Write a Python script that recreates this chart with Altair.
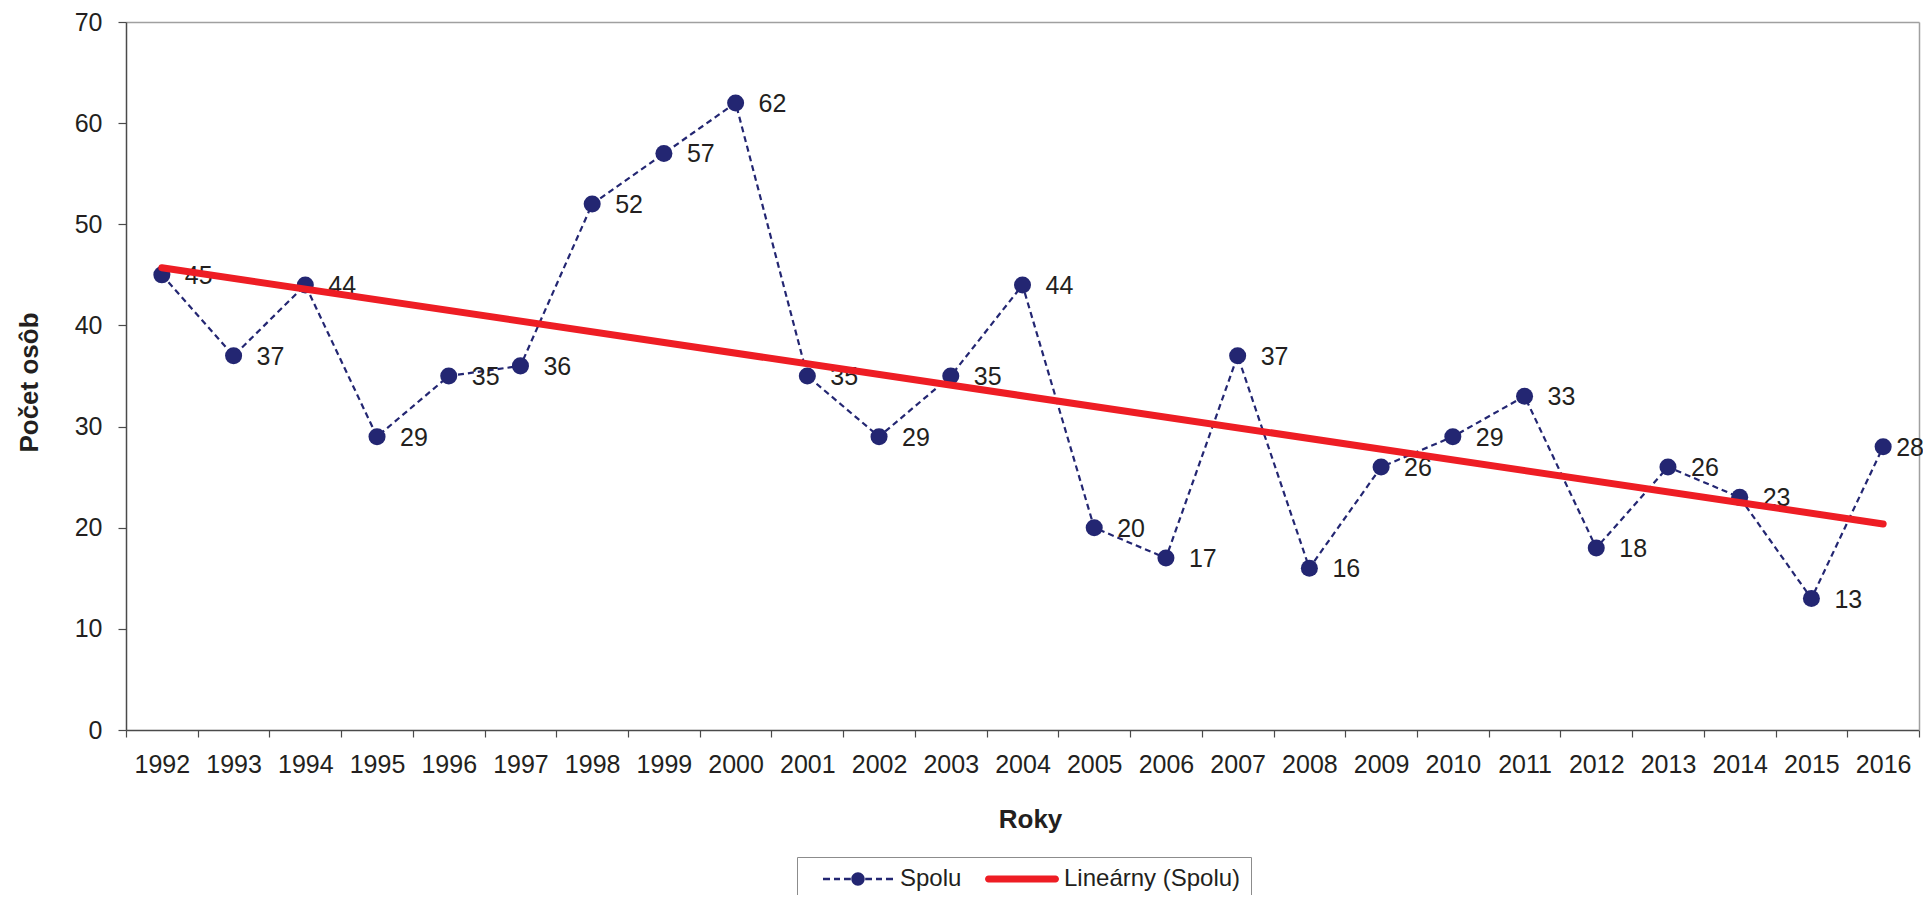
import altair as alt
import pandas as pd

# ---- data -------------------------------------------------------------
years = [1992, 1993, 1994, 1995, 1996, 1997, 1998, 1999, 2000, 2001, 2002, 2003,
         2004, 2005, 2006, 2007, 2008, 2009, 2010, 2011, 2012, 2013, 2014, 2015, 2016]
values = [45, 37, 44, 29, 35, 36, 52, 57, 62, 35, 29, 35,
          44, 20, 17, 37, 16, 26, 29, 33, 18, 26, 23, 13, 28]
legend_labels = ["Spolu", "Lineárny (Spolu)"]
y_ticks = [0, 10, 20, 30, 40, 50, 60, 70]

df = pd.DataFrame({"year": years, "value": values})
legend_df = pd.DataFrame({"series": legend_labels})

NAVY = "#232672"
RED = "#ee1d24"
TEXT = "#231f20"
AXIS = "#4a4a4a"
FONT = "Liberation Sans"

# legend symbol paths (unit = sqrt(symbolSize)/2 = 12 px)
def rect(x0, x1, h):
    return f"M{x0},{-h}L{x1},{-h}L{x1},{h}L{x0},{h}Z"

h = 0.095
spolu_path = " ".join([
    rect(-2.917, -2.333, h), rect(-2.0, -1.5, h), rect(-1.167, -0.6, h),
    rect(0.6, 1.167, h), rect(1.5, 2.0, h), rect(2.333, 2.917, h),
    "M-0.56,0A0.56,0.56 0 1,0 0.56,0A0.56,0.56 0 1,0 -0.56,0Z",
])
t = 0.292
trend_path = (f"M-2.79,{-t}L2.79,{-t}A{t},{t} 0 0,1 2.79,{t}"
              f"L-2.79,{t}A{t},{t} 0 0,1 -2.79,{-t}Z")

x_scale = alt.Scale(type="band", paddingInner=0, paddingOuter=0)
y_scale = alt.Scale(domain=[0, 70], nice=False, zero=True)

x_axis = alt.Axis(
    title="Roky", labelAngle=0, tickBand="extent", tickSize=7, labelPadding=15,
    titlePadding=29, titleX=904, grid=False,
)
y_axis = alt.Axis(
    title="Počet osôb", values=y_ticks, tickSize=8, labelPadding=16,
    titlePadding=32, titleY=360, grid=False,
)

base = alt.Chart(df)

# dashed series line (carries bottom/left axes)
line = base.mark_line(color=NAVY, strokeWidth=2.2, strokeDash=[6, 4]).encode(
    x=alt.X("year:O", scale=x_scale, axis=x_axis),
    y=alt.Y("value:Q", scale=y_scale, axis=y_axis),
)

points = base.mark_point(filled=True, size=290, color=NAVY, opacity=1).encode(
    x=alt.X("year:O", axis=None),
    y=alt.Y("value:Q", axis=None),
)

labels_main = base.transform_filter("datum.year < 2016").mark_text(
    align="left", baseline="middle", dx=23, dy=1, fontSize=25, font=FONT, color=TEXT
).encode(
    x=alt.X("year:O", axis=None),
    y=alt.Y("value:Q", axis=None),
    text="value:Q",
)
labels_last = base.transform_filter("datum.year == 2016").mark_text(
    align="left", baseline="middle", dx=13, dy=1, fontSize=25, font=FONT, color=TEXT
).encode(
    x=alt.X("year:O", axis=None),
    y=alt.Y("value:Q", axis=None),
    text="value:Q",
)

# linear trend (carries top/right frame axes)
top_axis = alt.Axis(orient="top", title=None, labels=False, ticks=False,
                    domainColor="#a0a0a0", domainWidth=1.5, grid=False)
right_axis = alt.Axis(orient="right", title=None, labels=False, ticks=False,
                      domainColor="#a0a0a0", domainWidth=1.5, grid=False)
trend = base.transform_regression("year", "value").mark_line(
    color=RED, strokeWidth=7, strokeCap="round"
).encode(
    x=alt.X("year:O", axis=top_axis),
    y=alt.Y("value:Q", axis=right_axis),
)

legend = alt.Legend(
    orient="none", legendX=671, legendY=835, direction="horizontal", title=None,
    labelFont=FONT, labelFontSize=24, labelColor=TEXT, labelOffset=30, labelLimit=400,
    symbolSize=576, symbolOffset=39, symbolStrokeWidth=0, symbolOpacity=1,
    columnPadding=9, padding=10, strokeColor="#8c8c8c", fillColor="white",
)

legend_layer = alt.Chart(legend_df).mark_point(filled=True, size=0, opacity=1).encode(
    color=alt.Color("series:N",
                    scale=alt.Scale(domain=legend_labels, range=[NAVY, RED]),
                    legend=legend),
    shape=alt.Shape("series:N",
                    scale=alt.Scale(domain=legend_labels, range=[spolu_path, trend_path]),
                    legend=legend),
)

chart = alt.layer(line, points, labels_main, labels_last, trend, legend_layer).resolve_axis(
    x="independent", y="independent"
).properties(
    width=1793, height=708,
    padding={"left": 118, "top": 14, "right": 4, "bottom": 165},
    autosize="none",
).configure_view(
    stroke=None
).configure_axis(
    labelFont=FONT, labelFontSize=25, labelColor=TEXT,
    titleFont=FONT, titleFontSize=26, titleFontWeight="bold", titleColor=TEXT,
    domainColor=AXIS, tickColor=AXIS, domainWidth=1.5, tickWidth=1.2,
)

chart.save("out.html", embed_options={"renderer": "svg", "actions": False})
